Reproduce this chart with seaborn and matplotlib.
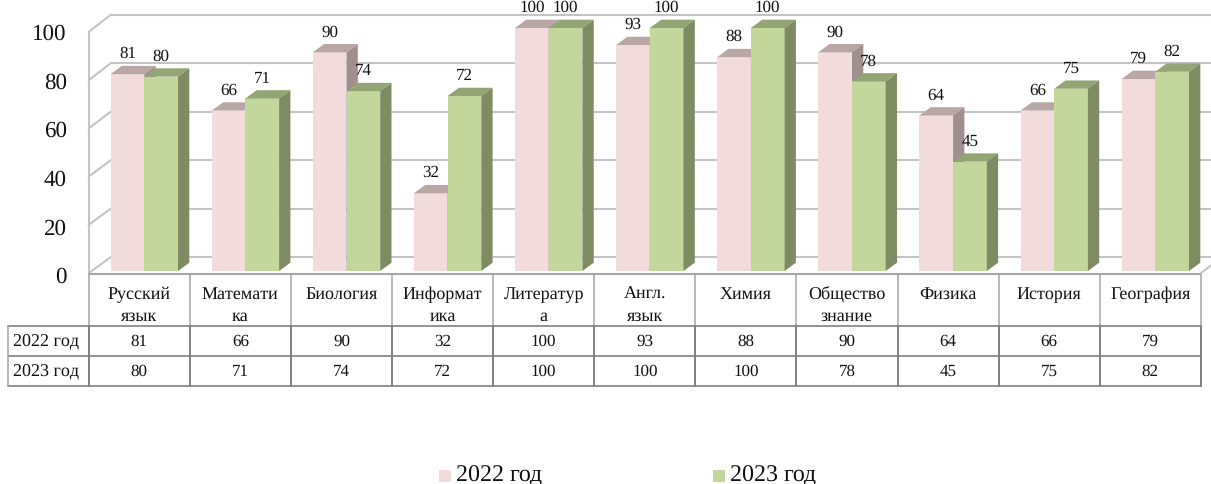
"""Grouped pseudo-3D bar chart with a data table under the axis."""

import matplotlib
matplotlib.use("Agg")
import matplotlib.pyplot as plt
import matplotlib.transforms as mtransforms
from matplotlib.patches import Polygon, Rectangle
import pandas as pd
import seaborn as sns

SUBJECTS = [
    "Русский\nязык", "Математи\nка", "Биология", "Информат\nика", "Литератур\nа",
    "Англ.\nязык", "Химия", "Общество\nзнание", "Физика", "История", "География",
]
VALUES_2022 = [81, 66, 90, 32, 100, 93, 88, 90, 64, 66, 79]
VALUES_2023 = [80, 71, 74, 72, 100, 100, 100, 78, 45, 75, 82]
YEARS = ["2022 год", "2023 год"]
Y_TICKS = [0, 20, 40, 60, 80, 100]

FRONT = {"2022 год": "#F2DCDB", "2023 год": "#C3D69B"}
TOP = {"2022 год": "#B9A7A6", "2023 год": "#93A574"}
SIDE = {"2022 год": "#9F8F8E", "2023 год": "#7F8B63"}
GRID = "#C4C4C4"
TABLE_LIGHT = "#A6A6A6"
TABLE_DARK = "#808080"

W, H = 1211, 484
# pixel frame of the plot area, y grows downward
PLOT_LEFT, PLOT_RIGHT, PLOT_TOP, PLOT_BOTTOM = 93.75, 1205.85, 28.0, 271.0
DEPTH_X, DEPTH_Y = 11.3, 8.3

sns.set_theme(style="white")
plt.rcParams["font.family"] = ["Liberation Serif", "DejaVu Serif"]
plt.rcParams["text.hinting"] = "no_hinting"
plt.rcParams["text.hinting_factor"] = 1

fig = plt.figure(figsize=(W / 100, H / 100), dpi=100)

# full-figure layer in pixels for the walls, the table and the legend
bg = fig.add_axes([0, 0, 1, 1], zorder=0)
bg.set_xlim(0, W)
bg.set_ylim(H, 0)
bg.axis("off")

# chart walls
wall_x0, wall_x1 = 88.7, 111.0
for tick in Y_TICKS:
    y_front = 273.0 - tick * 2.41
    y_back = 257.0 - tick * 2.425
    bg.plot([wall_x0, wall_x1], [y_front, y_back], color=GRID, lw=1.5)
    bg.plot([wall_x1, W], [y_back, y_back], color=GRID, lw=1.5)
bg.plot([wall_x0, wall_x0], [32, 273], color=GRID, lw=1.5)
bg.plot([wall_x0, 1201], [273.5, 273.5], color=TABLE_LIGHT, lw=1.5)
bg.plot([1201, W], [273, 265.5], color=GRID, lw=1.5)

# bars through seaborn, one row per subject and year
df = pd.DataFrame({
    "subject": SUBJECTS * 2,
    "value": VALUES_2022 + VALUES_2023,
    "year": [YEARS[0]] * len(SUBJECTS) + [YEARS[1]] * len(SUBJECTS),
})

ax = fig.add_axes(
    [PLOT_LEFT / W, 1 - PLOT_BOTTOM / H, (PLOT_RIGHT - PLOT_LEFT) / W, (PLOT_BOTTOM - PLOT_TOP) / H],
    zorder=1,
)
ax.patch.set_alpha(0)
sns.barplot(
    data=df, x="subject", y="value", hue="year", hue_order=YEARS,
    palette=FRONT, width=2 / 3, saturation=1, linewidth=0, legend=False, ax=ax,
)
ax.set_xlim(-0.5, len(SUBJECTS) - 0.5)
ax.set_ylim(0, 100)
ax.set_xlabel("")
ax.set_ylabel("")
sns.despine(ax=ax, left=True, bottom=True)

# depth faces and value labels, worked out from the drawn bars
dx = DEPTH_X / ((PLOT_RIGHT - PLOT_LEFT) / len(SUBJECTS))
dy = DEPTH_Y / ((PLOT_BOTTOM - PLOT_TOP) / 100)
for z, (year, container) in enumerate(zip(YEARS, ax.containers), start=2):
    for bar in container:
        x0, x1 = bar.get_x(), bar.get_x() + bar.get_width()
        top = bar.get_height()
        bar.set_zorder(z)
        ax.add_patch(Polygon(
            [(x0, top), (x1, top), (x1 + dx, top + dy), (x0 + dx, top + dy)],
            facecolor=TOP[year], linewidth=0, zorder=z, clip_on=False,
        ))
        ax.add_patch(Polygon(
            [(x1, 0), (x1 + dx, dy), (x1 + dx, top + dy), (x1, top)],
            facecolor=SIDE[year], linewidth=0, zorder=z, clip_on=False,
        ))
        ax.annotate(
            f"{top:.0f}", (bar.get_x() + bar.get_width() / 2, top),
            xytext=(0, 20 * 0.72), textcoords="offset points",
            ha="center", va="center", fontsize=12.3, color="#111111",
            zorder=5, annotation_clip=False,
        )

# ticks: y labels sit on the front wall, x labels in the table header
ax.set_yticks(Y_TICKS)
ax.tick_params(axis="y", length=0, pad=19.3, labelsize=16.5, labelcolor="#111111")
ax.tick_params(axis="x", length=0, pad=11, labelsize=13.0, labelcolor="#111111")
y_shift = mtransforms.ScaledTranslation(0, -4 / 72 * 0.72, fig.dpi_scale_trans)
x_shift = mtransforms.ScaledTranslation(-5.1 / 100, 0, fig.dpi_scale_trans)
for label in ax.get_yticklabels():
    label.set_transform(label.get_transform() + y_shift)
for label in ax.get_xticklabels():
    label.set_transform(label.get_transform() + x_shift)
    label.set_linespacing(1.47)
    label.set_verticalalignment("top")

# data table
col_w = (1200.9 - 88.7) / len(SUBJECTS)
col_edges = [88.7 + i * col_w for i in range(len(SUBJECTS) + 1)]
row_top, row_mid, row_end, row_head = 325.5, 356.0, 386.0, 275.0
for x in col_edges:
    bg.plot([x, x], [row_head, row_top], color=TABLE_LIGHT, lw=1.1)
    bg.plot([x, x], [row_top, row_end], color=TABLE_DARK, lw=1.4)
for y in (row_top, row_mid, row_end):
    bg.plot([8, col_edges[-1]], [y, y], color=TABLE_DARK, lw=1.2)
bg.plot([8, 8], [row_top, row_end], color=TABLE_LIGHT, lw=1.1)

for year, values, y in zip(YEARS, [VALUES_2022, VALUES_2023], [342, 372]):
    bg.text(46.5, y, year, ha="center", va="center", fontsize=13.0, color="#111111")
    for i, value in enumerate(values):
        bg.text(col_edges[i] + col_w / 2, y, str(value), ha="center", va="center",
                fontsize=12.3, color="#111111")

# legend
for year, x in zip(YEARS, [439, 713]):
    bg.add_patch(Rectangle((x, 470), 12, 12, facecolor=FRONT[year], linewidth=0))
    bg.text(x + 17, 481, year, ha="left", va="baseline", fontsize=17.0, color="#111111")

fig.savefig("out.png", dpi=100)
